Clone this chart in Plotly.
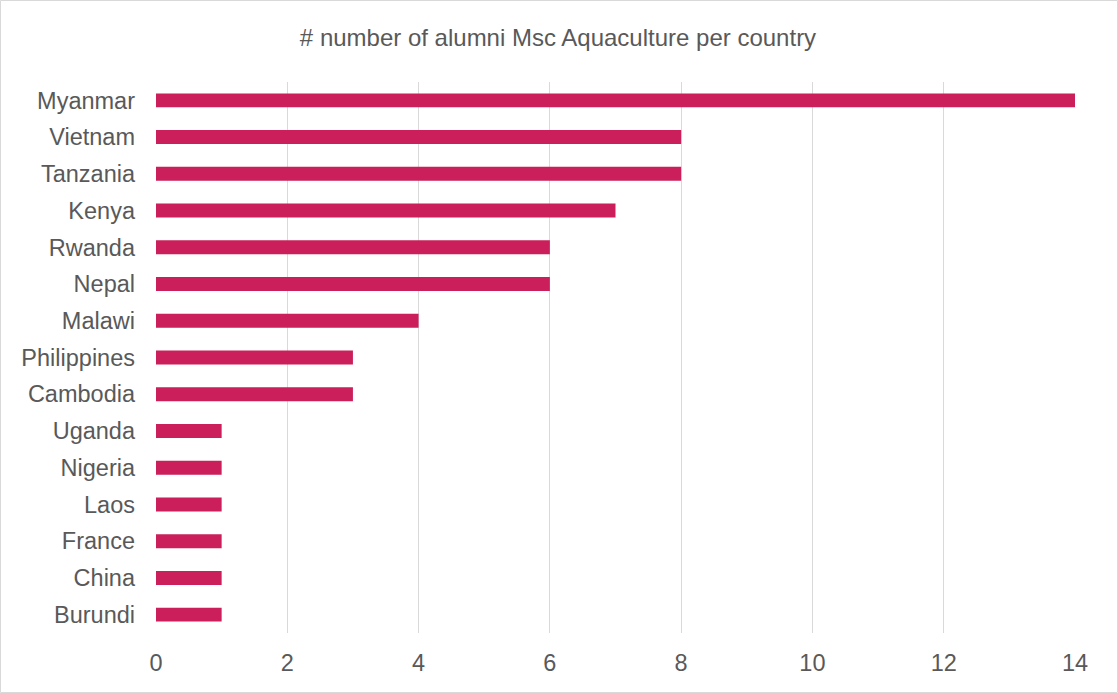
import plotly.graph_objects as go

countries = ["Myanmar", "Vietnam", "Tanzania", "Kenya", "Rwanda", "Nepal", "Malawi",
             "Philippines", "Cambodia", "Uganda", "Nigeria", "Laos", "France", "China", "Burundi"]
alumni = [14, 8, 8, 7, 6, 6, 4, 3, 3, 1, 1, 1, 1, 1, 1]
x_ticks = [0, 2, 4, 6, 8, 10, 12, 14]

W, H = 1118, 693
ml, mr, mt, mb = 156, 43, 82, 60
pw, ph = W - ml - mr, H - mt - mb

FONT = "Arial, 'Liberation Sans', sans-serif"
TICK = 23.5

fig = go.Figure(go.Bar(
    y=countries, x=alumni, orientation="h",
    marker=dict(color="#CA1F5A", line=dict(width=0)),
    width=0.38,
))

fig.update_layout(
    width=W, height=H,
    margin=dict(l=ml, r=mr, t=mt, b=mb),
    paper_bgcolor="white", plot_bgcolor="white",
    font=dict(family=FONT, color="#595959", size=TICK),
    title=dict(text="# number of alumni Msc Aquaculture per country",
               x=(558 - ml) / pw, xref="paper", xanchor="center", y=1 - 38 / H, yanchor="middle",
               font=dict(family=FONT, size=24, color="#595959")),
    xaxis=dict(range=[0, 14], tickvals=x_ticks, showgrid=True, gridcolor="#D9D9D9",
               gridwidth=1, zeroline=False, showline=False, ticks="",
               tickfont=dict(family=FONT, size=TICK, color="#595959"), ticklabelstandoff=13),
    yaxis=dict(categoryorder="array", categoryarray=countries[::-1], showgrid=False,
               zeroline=False, showline=False, ticks="",
               tickfont=dict(family=FONT, size=TICK, color="#595959"), ticklabelstandoff=20),
    showlegend=False,
    shapes=[dict(type="rect", xref="paper", yref="paper",
                 x0=(0.5 - ml) / pw, x1=(W - 0.5 - ml) / pw,
                 y0=-(mb - 0.5) / ph, y1=1 + (mt - 0.5) / ph,
                 line=dict(color="#D9D9D9", width=1), fillcolor="rgba(0,0,0,0)", layer="below")],
)

fig.write_html("out.html")
